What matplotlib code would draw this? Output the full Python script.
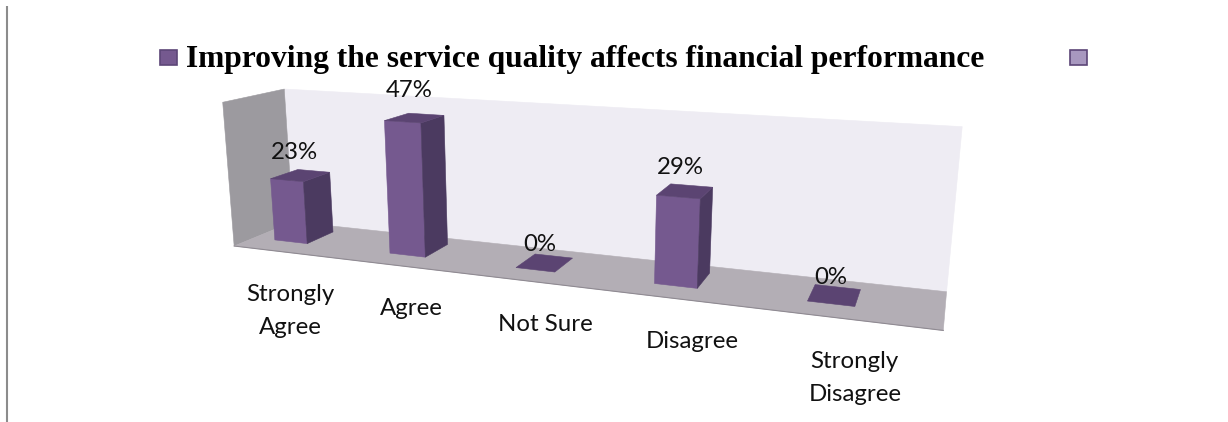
import numpy as np
import matplotlib
matplotlib.use("Agg")
import matplotlib.pyplot as plt

# Chart content
categories = ["Strongly\nAgree", "Agree", "Not Sure", "Disagree", "Strongly\nDisagree"]
values = [23, 47, 0, 29, 0]
value_labels = ["23%", "47%", "0%", "29%", "0%"]
series_names = ["Improving the service quality affects financial performance", ""]

Z_MAX = 52
N = len(categories)

# Camera calibration: corners of the plot box (world x, depth, z) -> pixel
box_world = np.array([
    [0, 0, 0], [0, 1, 0], [N, 1, 0], [N, 0, 0],
    [0, 1, Z_MAX], [N, 1, Z_MAX], [0, 0, Z_MAX],
], dtype=float)
box_pixel = np.array([
    [236, 245], [291, 223], [947, 290], [943, 332],
    [286, 89], [962, 127], [221, 102],
], dtype=float)


def fit_camera(world, pixel):
    rows = []
    for (x, y, z), (u, v) in zip(world, pixel):
        rows.append([x, y, z, 1, 0, 0, 0, 0, -u * x, -u * y, -u * z, -u])
        rows.append([0, 0, 0, 0, x, y, z, 1, -v * x, -v * y, -v * z, -v])
    return np.linalg.svd(np.array(rows))[2][-1].reshape(3, 4)


CAM = fit_camera(box_world, box_pixel)


def project(x, y, z):
    h = CAM @ np.array([x, y, z, 1.0])
    return h[0] / h[2], h[1] / h[2]


fig = plt.figure(figsize=(12.28, 4.22), dpi=100)
ax = fig.add_axes([0, 0, 1, 1])
ax.set_xlim(0, 1228)
ax.set_ylim(422, 0)
ax.axis("off")


def face(corners, color, z):
    pts = [project(*c) for c in corners]
    ax.fill(*zip(*pts), facecolor=color, edgecolor=color, linewidth=0.4, zorder=z)


# Walls and floor
face([(0, 1, 0), (N, 1, 0), (N, 1, Z_MAX), (0, 1, Z_MAX)], "#eeecf3", 1)
face([(0, 0, 0), (0, 1, 0), (0, 1, Z_MAX), (0, 0, Z_MAX)], "#9c9a9f", 2)
face([(0, 0, 0), (N, 0, 0), (N, 1, 0), (0, 1, 0)], "#b3aeb5", 2)
ax.plot(*zip(project(0, 0, 0), project(N, 0, 0)), color="#8f8a92", lw=0.8, zorder=2)

# Bars: each is a box on the floor, projected through the camera
BAR_W = 0.29
BAR_X = 0.33
D0, D1 = 0.33, 0.80
for i, v in enumerate(values):
    x0, x1 = i + BAR_X - BAR_W / 2, i + BAR_X + BAR_W / 2
    if v > 0:
        face([(x0, D0, 0), (x1, D0, 0), (x1, D0, v), (x0, D0, v)], "#75598f", 4)
        face([(x1, D0, 0), (x1, D1, 0), (x1, D1, v), (x1, D0, v)], "#4b3a60", 4)
    face([(x0, D0, v), (x1, D0, v), (x1, D1, v), (x0, D1, v)], "#5b4472", 4)
    px, py = project(i + BAR_X - 0.02, 0.5, v)
    ax.text(px, py - 20 - 0.17 * v, value_labels[i], ha="center", va="center",
            fontsize=17.3, family="Lato", color="#111111", zorder=6)
    lx, ly = project(i + 0.5, 0, 0)
    drop = 58 if "\n" in categories[i] else 41
    ax.text(lx, ly + drop, categories[i], ha="center", va="center", fontsize=17.3,
            family="Lato", color="#111111", linespacing=1.7, zorder=6)

# Legend row
ax.add_patch(plt.Rectangle((160, 50), 17, 15, facecolor="#75598f", edgecolor="#5c4677", lw=1.2))
ax.text(186, 59, series_names[0], ha="left", va="center", fontsize=22.7,
        family="Liberation Serif", fontweight="bold", color="black")
ax.add_patch(plt.Rectangle((1070, 50), 17, 15, facecolor="#a898bf", edgecolor="#5c4677", lw=1.2))

# Rule down the left side of the page
ax.plot([7, 7], [6, 422], color="#8c8c8c", lw=1.5, solid_capstyle="butt")

fig.savefig("out.png", dpi=100, facecolor="white")
